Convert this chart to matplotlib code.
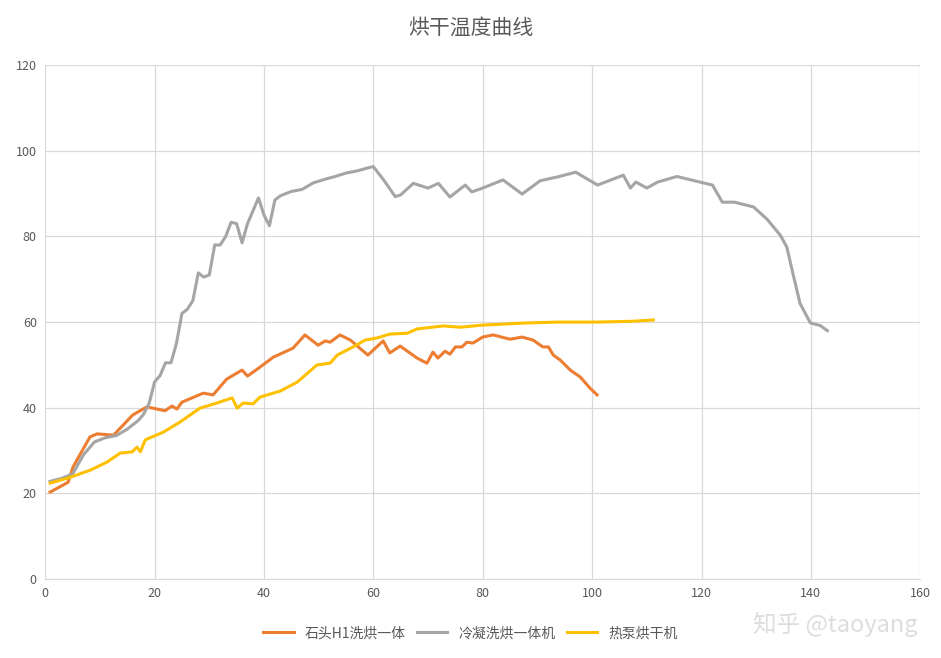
import matplotlib.pyplot as plt

plt.rcParams['font.family'] = ['Noto Sans CJK SC', 'DejaVu Sans']

# 石头H1洗烘一体
stone_x = [0.9, 4.2, 5.1, 8.2, 9.5, 12.5, 16, 18.6, 21.9, 23.2, 24.1, 25, 28.9, 30.7, 33.2, 36, 37,
           39.3, 41.7, 45.3, 47.5, 49.9, 51.2, 52.1, 53.9, 55.8, 59, 61.8, 63, 64.9, 68, 69.8, 70.9,
           71.8, 73.1, 74, 75, 76.2, 77.1, 78.2, 80, 81.9, 85, 87.2, 89.2, 91, 92, 92.9, 94.2, 96,
           97.8, 99.6, 100.9]
stone_y = [20.3, 22.6, 26.2, 33.2, 33.9, 33.6, 38.3, 40.2, 39.3, 40.4, 39.7, 41.3, 43.4, 43, 46.7,
           48.8, 47.4, 49.5, 51.8, 53.9, 57, 54.6, 55.6, 55.3, 57, 55.8, 52.3, 55.6, 52.8, 54.4, 51.6,
           50.4, 53, 51.6, 53.2, 52.5, 54.2, 54.2, 55.3, 55.1, 56.5, 57, 56, 56.5, 55.8, 54.2, 54.2,
           52.3, 51.1, 48.8, 47.2, 44.6, 43]

# 冷凝洗烘一体机
cond_x = [0.9, 3, 5, 7, 9, 11, 13, 15, 17, 18, 19, 20, 21, 22, 23, 24, 25, 26, 27, 28, 29, 30, 31,
          32, 33, 34, 35, 36, 37, 38, 39, 40, 41, 42, 43, 45, 47, 49, 51, 53, 55, 57, 59, 60, 62,
          64, 65, 67.3, 70, 71.9, 74, 76.8, 78, 80, 83.7, 87.2, 90.5, 94, 97, 101, 105.7, 107, 108,
          110, 112, 115.5, 119.7, 122, 123.8, 126, 129.5, 132, 134.4, 135.6, 136.7, 138, 139.9,
          141.7, 143]
cond_y = [22.8, 23.5, 24.5, 29, 32, 33, 33.5, 35, 37, 38.5, 41, 46, 47.5, 50.5, 50.5, 55, 62, 63,
          65, 71.5, 70.5, 71, 78, 78, 80, 83.3, 83, 78.5, 83, 86, 89, 85, 82.5, 88.5, 89.5, 90.5, 91,
          92.5, 93.3, 94, 94.8, 95.3, 96, 96.3, 93, 89.3, 89.7, 92.4, 91.3, 92.4, 89.2, 92, 90.4,
          91.3, 93.2, 89.9, 93, 94, 95, 92, 94.3, 91.3, 92.7, 91.3, 92.7, 94, 92.7, 92, 88, 88,
          86.9, 84, 80.3, 77.5, 71.4, 64.4, 59.8, 59.2, 58]

# 热泵烘干机
pump_x = [0.9, 4.2, 8.2, 11.3, 13.7, 15.9, 16.8, 17.4, 18.3, 21.6, 24.7, 28.3, 31.4, 34.2, 35.1,
          36.2, 38, 39.3, 43, 46.1, 49.7, 52.1, 53.4, 56.3, 58.5, 60.7, 63, 66.2, 68, 72.8, 75.9,
          80, 88.1, 93.6, 100.9, 107.5, 111.2]
pump_y = [22.4, 23.6, 25.4, 27.3, 29.4, 29.7, 30.8, 29.7, 32.5, 34.3, 36.7, 39.9, 41.1, 42.3, 39.9,
          41.1, 40.9, 42.5, 43.9, 46, 50, 50.4, 52.3, 54.2, 55.8, 56.3, 57.2, 57.4, 58.4, 59.1, 58.8,
          59.3, 59.8, 60, 60, 60.2, 60.5]

fig = plt.figure(figsize=(9.41, 6.58), dpi=100)
ax = fig.add_axes([0.048, 0.12, 0.93, 0.781])

ax.plot(stone_x, stone_y, color='#ED7D31', lw=2.2, label='石头H1洗烘一体')
ax.plot(cond_x, cond_y, color='#A5A5A5', lw=2.2, label='冷凝洗烘一体机')
ax.plot(pump_x, pump_y, color='#FFC000', lw=2.2, label='热泵烘干机')

ax.set_xlim(0, 160)
ax.set_ylim(0, 120)
ax.set_xticks(range(0, 161, 20))
ax.set_yticks(range(0, 121, 20))
ax.grid(True, color='#D9D9D9', lw=0.9)
ax.set_axisbelow(True)
for s in ['top', 'right', 'left']:
    ax.spines[s].set_visible(False)
ax.spines['bottom'].set_color('#D9D9D9')
ax.tick_params(length=0, labelsize=9, colors='#595959', pad=6)

fig.suptitle('烘干温度曲线', y=0.975, fontsize=15, color='#595959')
fig.legend(loc='lower center', bbox_to_anchor=(0.5, 0.008), ncol=3, frameon=False,
           fontsize=10, labelcolor='#595959', handlelength=2.2, columnspacing=0.8)
fig.text(0.975, 0.04, '知乎 @taoyang', ha='right', fontsize=17, color='#DDDDDD')

fig.savefig('out.png')
